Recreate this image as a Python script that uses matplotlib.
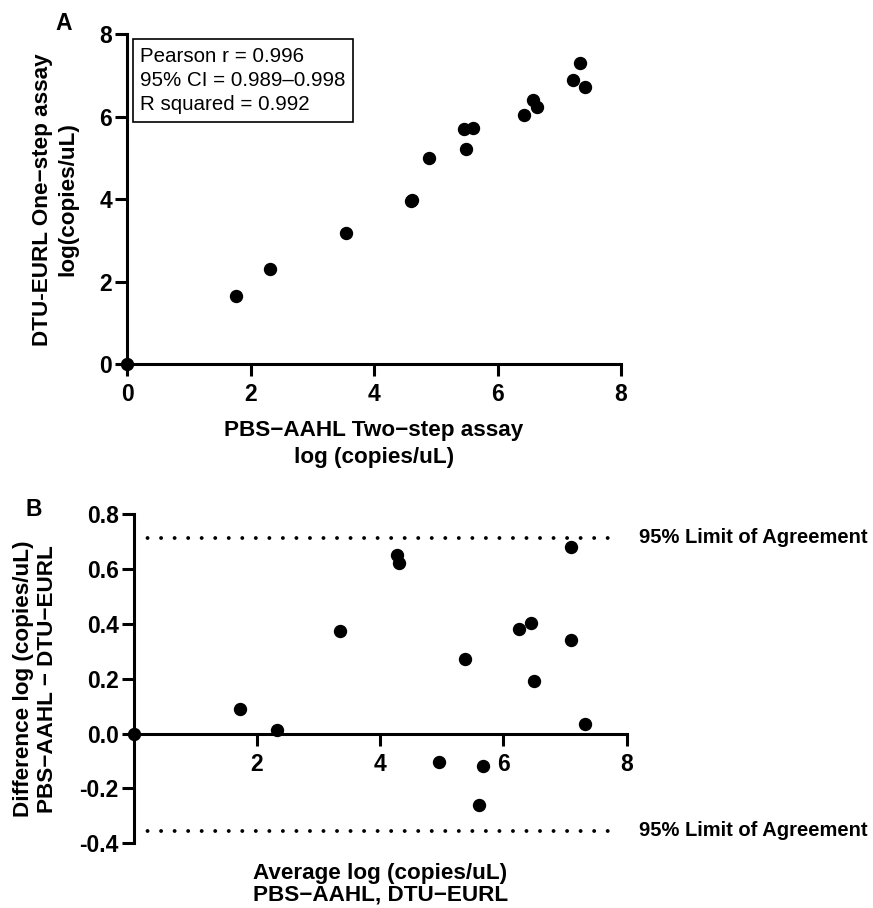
import matplotlib
matplotlib.use("Agg")
import matplotlib.pyplot as plt
from matplotlib.ticker import FuncFormatter

plt.rcParams['font.family'] = ['Liberation Sans', 'DejaVu Sans']
plt.rcParams['axes.unicode_minus'] = False

# Panel A: correlation data
pbs_two_step = [0.0, 1.77, 2.32, 3.55, 4.60, 4.61, 4.89, 5.49, 5.46, 5.60,
                6.43, 6.58, 6.64, 7.23, 7.33, 7.42]
dtu_one_step = [0.0, 1.66, 2.31, 3.17, 3.95, 3.98, 5.00, 5.21, 5.71, 5.72,
                6.04, 6.41, 6.23, 6.89, 7.30, 6.73]
a_ticks = [0, 2, 4, 6, 8]
stats_text = "Pearson r = 0.996\n95% CI = 0.989\u20130.998\nR squared = 0.992"

# Panel B: Bland-Altman data
ba_average = [0.0, 1.72, 2.32, 3.35, 4.28, 4.30, 4.95, 5.37, 5.60, 5.67,
              6.25, 6.45, 6.50, 7.09, 7.09, 7.33]
ba_difference = [0.0, 0.091, 0.012, 0.376, 0.652, 0.624, -0.103, 0.274, -0.259, -0.119,
                 0.383, 0.403, 0.193, 0.679, 0.341, 0.036]
loa_upper = 0.715
loa_lower = -0.355
loa_label = "95% Limit of Agreement"
b_xticks = [2, 4, 6, 8]
b_yticks = [-0.4, -0.2, 0.0, 0.2, 0.4, 0.6, 0.8]

W, H = 873, 908
fig = plt.figure(figsize=(W / 100, H / 100), dpi=100)

LW = 2.2
TICK_FS = 16.5
LABEL_FS = 16.2
MS = 8.6

def style_axis(ax):
    for s in ['top', 'right']:
        ax.spines[s].set_visible(False)
    for s in ['left', 'bottom']:
        ax.spines[s].set_linewidth(LW)
    ax.tick_params(direction='out', length=8.6, width=LW, labelsize=TICK_FS)
    for lab in ax.get_xticklabels() + ax.get_yticklabels():
        lab.set_fontweight('bold')

# ---------- Panel A ----------
axA = fig.add_axes([127 / W, 1 - 364 / H, (621 - 127) / W, (364 - 34.5) / H])
axA.plot(pbs_two_step, dtu_one_step, 'o', color='black', markersize=MS,
         clip_on=False, zorder=5)
axA.set_xlim(0, 8)
axA.set_ylim(0, 8)
axA.set_xticks(a_ticks)
axA.set_yticks(a_ticks)
style_axis(axA)
axA.tick_params(axis='x', pad=5)
axA.tick_params(axis='y', pad=2)
axA.set_xlabel("PBS\u2212AAHL Two\u2212step assay\nlog (copies/uL)",
               fontsize=LABEL_FS, fontweight='bold', linespacing=1.4)
axA.xaxis.set_label_coords(0.5, -0.17)
axA.set_ylabel("DTU-EURL One\u2212step assay\nlog(copies/uL)",
               fontsize=LABEL_FS, fontweight='bold', linespacing=1.25)
axA.yaxis.set_label_coords(-0.099, 0.5)
axA.text(140 / W, 1 - 80.5 / H, stats_text, transform=fig.transFigure,
         fontsize=14.8, va='center', ha='left', linespacing=1.36,
         bbox=dict(boxstyle='square,pad=0.35', facecolor='white',
                   edgecolor='black', linewidth=1.2))
fig.text(64 / W, 1 - 24 / H, "A", fontsize=16.5, fontweight='bold',
         ha='center', va='center')

# ---------- Panel B ----------
axB = fig.add_axes([133.5 / W, 1 - 843.3 / H, (626.7 - 133.5) / W, (843.3 - 514.3) / H])
axB.plot(ba_average, ba_difference, 'o', color='black', markersize=MS,
         clip_on=False, zorder=5)
for yv in (loa_upper, loa_lower):
    axB.plot([0, 7.9], [yv, yv], color='black', linewidth=2.8,
             linestyle=(0, (0.01, 3.47)), dash_capstyle='round', zorder=1)
    axB.text(8.2, yv, loa_label, fontsize=14.5, fontweight='bold',
             va='center', ha='left', clip_on=False)
axB.set_xlim(0, 8)
axB.set_ylim(-0.4, 0.8)
axB.spines['bottom'].set_position(('data', 0))
axB.set_xticks(b_xticks)
axB.set_yticks(b_yticks)
axB.yaxis.set_major_formatter(FuncFormatter(lambda v, p: f"{v:.1f}"))
style_axis(axB)
axB.tick_params(axis='x', pad=5)
axB.tick_params(axis='y', pad=2)
axB.set_xlabel("Average log (copies/uL)\nPBS\u2212AAHL, DTU\u2212EURL",
               fontsize=LABEL_FS, fontweight='bold', linespacing=1.05)
axB.xaxis.set_label_coords(0.5, -0.06)
axB.set_ylabel("Difference log (copies/uL)\nPBS\u2212AAHL \u2212 DTU\u2212EURL",
               fontsize=LABEL_FS, fontweight='bold', linespacing=1.2)
axB.yaxis.set_label_coords(-0.153, 0.5)
fig.text(34 / W, 1 - 509 / H, "B", fontsize=16.5, fontweight='bold',
         ha='center', va='center')

fig.savefig("out.png", dpi=100)
